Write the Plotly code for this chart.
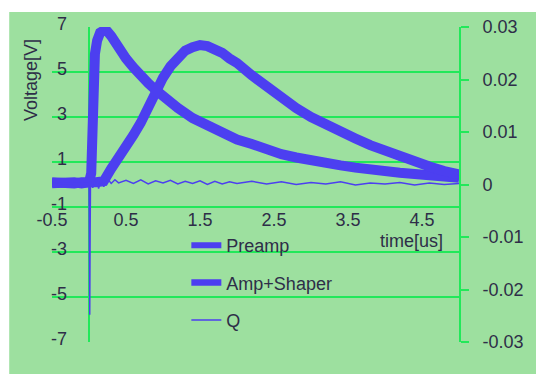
import plotly.graph_objects as go

# ---------------- data ----------------
t_pre = [-0.5, -0.4, -0.3, -0.2, -0.1, 0.0, 0.03, 0.04, 0.05, 0.06, 0.08, 0.11, 0.15, 0.2,
         0.25, 0.3, 0.4, 0.5, 0.6, 0.7, 0.8, 0.9, 1.0, 1.2, 1.4, 1.6, 1.8, 2.0, 2.2, 2.4,
         2.6, 2.8, 3.0, 3.2, 3.4, 3.6, 3.8, 4.0, 4.2, 4.4, 4.6, 4.8, 5.0]
v_pre = [0.05, 0.1, 0.05, 0.1, 0.05, 0.1, 0.5, 2.0, 3.5, 4.8, 5.8, 6.4, 6.75, 6.85,
         6.8, 6.6, 6.0, 5.6, 5.2, 4.8, 4.5, 4.2, 3.9, 3.4, 2.95, 2.6, 2.3, 2.0, 1.8, 1.55,
         1.35, 1.2, 1.05, 0.95, 0.85, 0.75, 0.65, 0.6, 0.52, 0.47, 0.4, 0.35, 0.3]

t_amp = [-0.5, -0.4, -0.3, -0.2, -0.1, 0.0, 0.1, 0.2, 0.25, 0.3, 0.4, 0.5, 0.6, 0.7, 0.8,
         0.9, 1.0, 1.1, 1.2, 1.3, 1.4, 1.5, 1.6, 1.7, 1.8, 1.9, 2.0, 2.2, 2.4, 2.6, 2.8,
         3.0, 3.2, 3.4, 3.6, 3.8, 4.0, 4.2, 4.4, 4.6, 4.8, 5.0]
v_amp = [0.1, 0.05, 0.1, 0.05, 0.1, 0.05, 0.1, 0.15, 0.35, 0.7, 1.2, 1.65, 2.2, 2.75, 3.4,
         4.2, 4.75, 5.25, 5.65, 5.95, 6.1, 6.2, 6.15, 6.05, 5.85, 5.6, 5.4, 4.85, 4.35, 3.9, 3.4,
         3.0, 2.65, 2.35, 2.05, 1.75, 1.5, 1.2, 1.0, 0.8, 0.6, 0.45]

t_q = [-0.5, -0.3, -0.1, 0.0, 0.005, 0.01, 0.015, 0.02, 0.05, 0.1, 0.13, 0.16, 0.2, 0.25,
       0.3, 0.35, 0.4, 0.5, 0.6, 0.7, 0.8, 0.9, 1.0, 1.1, 1.2, 1.3, 1.4, 1.5, 1.6, 1.7,
       1.8, 1.9, 2.0, 2.2, 2.4, 2.6, 2.8, 3.0, 3.2, 3.4, 3.6, 3.8, 4.0, 4.2, 4.4, 4.6, 4.8, 5.0]
v_q = [0.0003, 0.0002, 0.0003, 0.0002, -0.012, -0.0248, -0.01, 0.0005, -0.0006, 0.0012, -0.0008,
       0.001, -0.0004, 0.0011, 0.0002, 0.0009, 0.0003, 0.0008, 0.0002, 0.0009, 0.0001, 0.0007,
       0.0003, 0.0008, 0.0001, 0.0006, 0.0002, 0.0007, 0.0, 0.0006, 0.0001, 0.0005, 0.0002,
       0.0006, 0.0001, 0.0005, 0.0, 0.0004, 0.0001, 0.0005, -0.0001, 0.0003, 0.0001, 0.0004,
       -0.0001, 0.0003, 0.0, 0.0002]

x_ticks = [-0.5, 0.5, 1.5, 2.5, 3.5, 4.5]
x_labels = ["-0.5", "0.5", "1.5", "2.5", "3.5", "4.5"]
y_ticks = [-7, -5, -3, -1, 1, 3, 5, 7]
y_labels = ["-7", "-5", "-3", "-1", "1", "3", "5", "7"]
y2_ticks = [-0.03, -0.02, -0.01, 0, 0.01, 0.02, 0.03]
y2_labels = ["-0.03", "-0.02", "-0.01", "0", "0.01", "0.02", "0.03"]

# ---------------- styles ----------------
BLUE = "#4c3ff0"
GREEN_BG = "#9de09f"
GRID = "#22e85a"
TXT = "#2e2e48"
FONT = "Liberation Sans"

W, H = 536, 374
L, R, T, B = 52, 75, 27, 32
pw, ph = W - L - R, H - T - B

def px_x(x):
    return (x - L) / pw

def px_y(y):
    return (H - B - y) / ph

fig = go.Figure()

fig.add_trace(go.Scatter(x=t_pre, y=v_pre, mode="lines", name="Preamp",
                         line=dict(color=BLUE, width=6), legendgroup="a"))
fig.add_trace(go.Scatter(x=t_amp, y=v_amp, mode="lines", name="Amp+Shaper",
                         line=dict(color=BLUE, width=6.5), legendgroup="b"))
fig.add_trace(go.Scatter(x=t_q, y=v_q, mode="lines", name="Q", yaxis="y2",
                         line=dict(color=BLUE, width=1.5), legendgroup="c"))
# thick noisy bands of the measured traces
fig.add_trace(go.Scatter(x=t_pre, y=v_pre, mode="lines", showlegend=False,
                         line=dict(color=BLUE, width=10), hoverinfo="skip"))
fig.add_trace(go.Scatter(x=t_amp, y=v_amp, mode="lines", showlegend=False,
                         line=dict(color=BLUE, width=10), hoverinfo="skip"))

fig.update_layout(
    width=W, height=H,
    margin=dict(l=L, r=R, t=T, b=B, pad=0),
    paper_bgcolor=GREEN_BG, plot_bgcolor=GREEN_BG,
    font=dict(family=FONT, size=18, color=TXT),
    showlegend=True,
    legend=dict(x=px_x(187), y=px_y(227), xanchor="left", yanchor="top",
                bgcolor="rgba(0,0,0,0)", font=dict(size=18, color=TXT),
                tracegroupgap=11, traceorder="grouped"),
    xaxis=dict(range=[-0.5, 5], showgrid=False, zeroline=True, zerolinecolor=GRID,
               zerolinewidth=2, showline=False, ticks="", tickvals=x_ticks,
               ticktext=x_labels, anchor="free", position=(-1 + 7) / 14),
    yaxis=dict(range=[-7, 7], tickvals=y_ticks, ticktext=y_labels, showgrid=True,
               gridcolor=GRID, gridwidth=2, zeroline=False, showline=False,
               ticks="", ticklabelstandoff=-16, ticklabelshift=-3),
    yaxis2=dict(range=[-0.03, 0.03], overlaying="y", side="right", tickvals=y2_ticks,
                ticktext=y2_labels, showgrid=False, zeroline=False, showline=True,
                linecolor=GRID, linewidth=2, ticks="outside", ticklen=8, tickwidth=2,
                tickcolor=GRID, ticklabelstandoff=10),
    shapes=[
        dict(type="rect", xref="paper", yref="paper", x0=-0.3, x1=1.4,
             y0=px_y(12), y1=1.3, fillcolor="white", line=dict(width=0), layer="below"),
        dict(type="rect", xref="paper", yref="paper", x0=-0.3, x1=px_x(9),
             y0=-0.3, y1=1.3, fillcolor="white", line=dict(width=0), layer="below"),
    ],
    annotations=[
        dict(text="Voltage[V]", xref="paper", yref="paper", x=px_x(31), y=px_y(80),
             xanchor="center", yanchor="middle",
             textangle=-90, showarrow=False, font=dict(size=18, color=TXT)),
        dict(text="time[us]", xref="paper", yref="paper", x=px_x(413), y=px_y(241),
             xanchor="center", yanchor="middle",
             showarrow=False, font=dict(size=18, color=TXT)),
    ],
)

fig.write_html("out.html")
